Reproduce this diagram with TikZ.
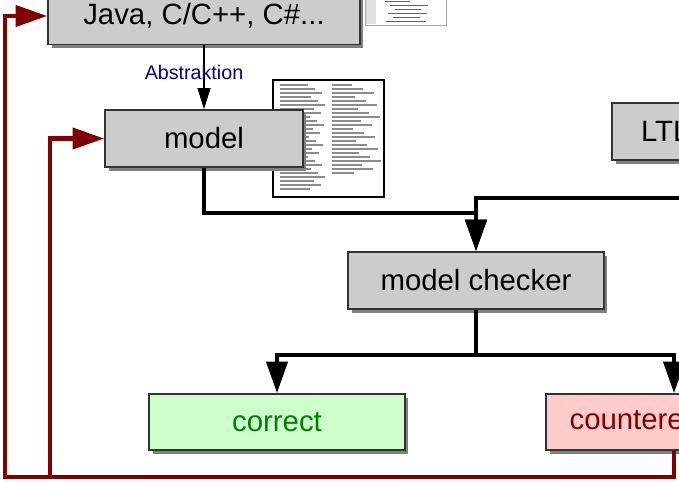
\documentclass[tikz,border=0pt]{standalone}
\usepackage{fontspec}
\setmainfont{Liberation Sans}
\usetikzlibrary{arrows.meta,shadows}

\definecolor{boxgray}{HTML}{CCCCCC}
\definecolor{okgreen}{HTML}{CCFFCC}
\definecolor{okdark}{HTML}{008000}
\definecolor{errpink}{HTML}{FFCCCC}
\definecolor{errdark}{HTML}{800000}
\definecolor{absblue}{HTML}{000080}

\tikzset{
  stage/.style={draw=black!80, line width=1pt, fill=boxgray, inner sep=0pt,
    minimum height=1.14cm, font=\fontsize{16.7}{20}\selectfont,
    drop shadow={shadow xshift=0.07cm, shadow yshift=-0.07cm, fill=black!50, opacity=1}},
  flow/.style={line width=2.3pt, line join=miter, -{Triangle[length=18pt,width=12pt]}},
  back/.style={errdark, line width=2.3pt, line join=miter, -{Triangle[length=18pt,width=12pt]}},
  docline/.style={black!45, line width=0.6pt},
}

\begin{document}
\begin{tikzpicture}[x=0.02cm, y=-0.02cm]
    \useasboundingbox (0,0) rectangle (679,481);
    \clip (0,0) rectangle (679,481);

    % small source listing next to the language box
    \draw[black!35, fill=white] (365,-5) rectangle (446,25);
    \fill[black!12] (366,-5) rectangle (376,24);
    \foreach \k in {0,...,5}
        \draw[blue!30!gray, line width=0.5pt] ({385+mod(\k*5,12)},{1+4*\k}) -- ++({25+mod(\k*13,25)},0);

    % printed model text behind the model box
    \draw[line width=1.2pt, fill=white] (273,80) rectangle (384,197);
    \foreach \k in {0,...,26}
        \draw[docline] (280,{85+4*\k}) -- ++({28+mod(\k*7,18)},0);
    \foreach \k in {0,...,22}
        \draw[docline] (332,{85+4*\k}) -- ++({20+mod(\k*11,30)},0);

    \node[stage, minimum width=6.24cm] (java) at (204,16) {Java, C/C++, C\#...};
    \node[stage, minimum width=3.96cm] (model) at (204,138.5) {model};
    \node[stage, minimum width=5.12cm, inner xsep=0.58cm, text width=3.96cm, align=left] (ltl) at (740,131.5) {LTL};
    \node[stage, minimum width=5.12cm] (checker) at (476,280.5) {model checker};
    \node[stage, minimum width=5.12cm, minimum height=1.12cm, fill=okgreen, text=okdark] (correct) at (277,422) {correct};
    \node[stage, minimum width=5.12cm, minimum height=1.12cm, fill=errpink, text=errdark] (counter) at (674,422) {counterexample};

    % abstraction step
    \draw[line width=0.7pt, -{Triangle[length=12pt,width=7.4pt]}] (java) -- (model);
    \node[absblue, font=\fontsize{11.2}{13}\selectfont] (abs) at (194,72) {Abstraktion};

    % model and formula into the checker
    \draw[flow] (model.south) -- ++(0,45) -| (checker.north);
    \draw[flow] (ltl.south) -- ++(0,37) -| (checker.north);

    % verdicts
    \draw[flow] (checker.south) -- ++(0,45) -| (correct.north);
    \draw[flow] (checker.south) -- ++(0,45) -| (counter.north);

    % feedback from the counterexample
    \coordinate (fbouter) at (5,477);
    \coordinate (fbinner) at (50,477);
    \draw[back] (counter.south) |- (fbouter) |- (java.west);
    \draw[back] (fbinner) |- (model.west);
\end{tikzpicture}
\end{document}
